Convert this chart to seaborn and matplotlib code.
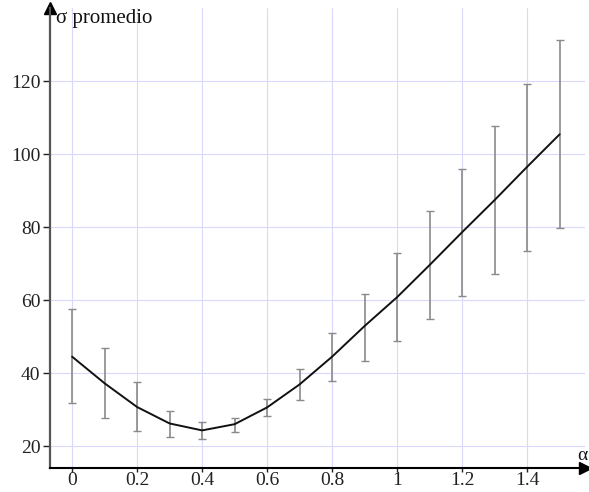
import matplotlib
matplotlib.use("Agg")
import matplotlib.pyplot as plt
import seaborn as sns
import pandas as pd

# mean sigma for each alpha, with lower/upper ends of the spread
alpha = [0.0, 0.1, 0.2, 0.3, 0.4, 0.5, 0.6, 0.7, 0.8, 0.9, 1.0, 1.1, 1.2, 1.3, 1.4, 1.5]
sigma_mean = [44.5, 37.2, 30.7, 26.2, 24.3, 26.0, 30.6, 36.9, 44.5, 52.9, 60.8, 69.6, 78.6, 87.4, 96.5, 105.4]
sigma_low = [31.7, 27.6, 24.2, 22.4, 21.9, 23.9, 28.2, 32.6, 37.8, 43.4, 48.9, 54.8, 61.0, 67.1, 73.5, 79.8]
sigma_high = [57.5, 47.0, 37.5, 29.7, 26.5, 27.8, 32.8, 41.2, 51.0, 61.7, 72.9, 84.4, 95.9, 107.7, 119.3, 131.2]

x_ticks = [0, 0.2, 0.4, 0.6, 0.8, 1, 1.2, 1.4]
x_labels = ["0", "0.2", "0.4", "0.6", "0.8", "1", "1.2", "1.4"]
y_ticks = [20, 40, 60, 80, 100, 120]

df = pd.DataFrame({"alpha": alpha, "sigma": sigma_mean,
                   "low": sigma_low, "high": sigma_high})

sns.set_theme(style="white")
plt.rcParams["font.family"] = ["Liberation Serif", "DejaVu Serif"]

fig = plt.figure(figsize=(5.89, 4.92), dpi=100)
ax = fig.add_axes([50 / 589, 24 / 492, 535 / 589, 460 / 492])

grid_color = "#d9d9fc"
for xt in x_ticks:
    ax.axvline(xt, color=grid_color, lw=0.8, zorder=0)
for yt in y_ticks:
    ax.axhline(yt, color=grid_color, lw=0.8, zorder=0)

ax.errorbar(df["alpha"], df["sigma"],
            yerr=[df["sigma"] - df["low"], df["high"] - df["sigma"]],
            fmt="none", ecolor="#8a8a8a", elinewidth=1.2, capsize=3,
            capthick=1.0, zorder=2)
sns.lineplot(data=df, x="alpha", y="sigma", ax=ax, color="#111111",
             lw=1.4, zorder=3, legend=False)

ax.set_xlim(-0.068, 1.578)
ax.set_ylim(14.0, 140.0)
ax.set_xticks(x_ticks)
ax.set_xticklabels(x_labels)
ax.set_yticks(y_ticks)
ax.set_xlabel("")
ax.set_ylabel("")

for side in ("top", "right"):
    ax.spines[side].set_visible(False)
ax.spines["left"].set_color("#555555")
ax.spines["left"].set_linewidth(1.6)
ax.spines["bottom"].set_color("#000000")
ax.spines["bottom"].set_linewidth(1.5)

ax.tick_params(axis="both", which="both", direction="out", length=5,
               width=1.0, labelsize=14, colors="#222222", pad=2,
               bottom=True, left=True)
ax.tick_params(axis="x", length=3, pad=0)

# axis arrowheads
ax.plot(1, 0, marker=">", color="black", markersize=8,
        transform=ax.transAxes, clip_on=False)
ax.plot(0, 1, marker="^", color="black", markersize=8,
        transform=ax.transAxes, clip_on=False)

ax.text(56 / 589, 1 - 18 / 492, "σ promedio", transform=fig.transFigure,
        fontsize=15, ha="left", va="center", color="#111111")
ax.text(588 / 589, 1 - 455 / 492, "α", transform=fig.transFigure,
        fontsize=14, ha="right", va="center", color="#111111")

fig.savefig("out.png", dpi=100, facecolor="white")
